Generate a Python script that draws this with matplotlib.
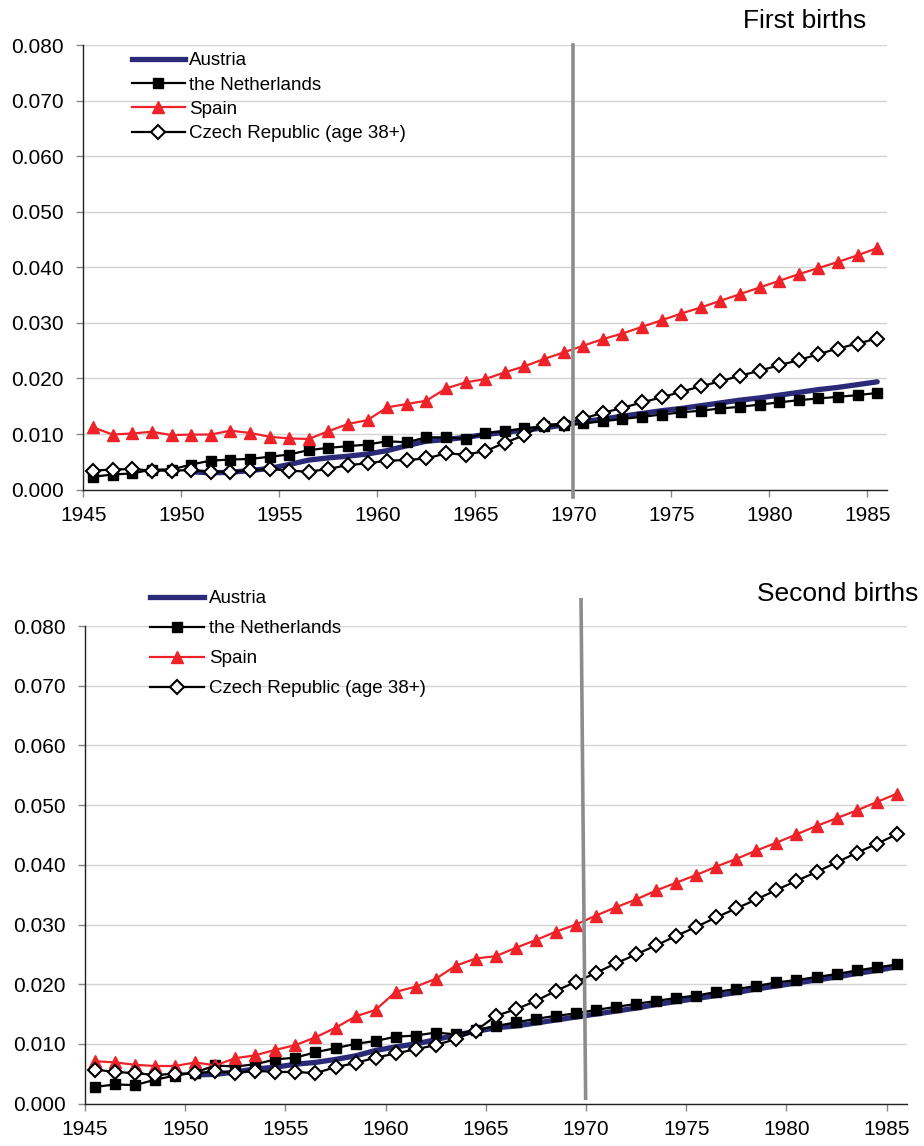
import numpy as np
import matplotlib
matplotlib.use('Agg')
import matplotlib.pyplot as plt
from matplotlib.lines import Line2D

plt.rcParams['font.family'] = ['Liberation Sans', 'DejaVu Sans']

years = np.arange(1945, 1986)
tick_years = [1945, 1950, 1955, 1960, 1965, 1970, 1975, 1980, 1985]
countries = ['Austria', 'the Netherlands', 'Spain', 'Czech Republic (age 38+)']
nan = np.nan

# first births
austria_1 = [nan, nan, nan, nan, nan,
             0.0032, 0.0030, 0.0031, 0.0034, 0.0038,
             0.0045, 0.0053, 0.0057, 0.0060, 0.0064, 0.0070, 0.0079, 0.0087, 0.0090, 0.0094,
             0.0099, 0.0103, 0.0107, 0.0111, 0.0116, 0.0122, 0.0127, 0.0132, 0.0137, 0.0142,
             0.0146, 0.0151, 0.0156, 0.0161, 0.0165, 0.0170, 0.0175, 0.0180, 0.0184, 0.0189, 0.0194]
netherlands_1 = [0.0023, 0.0027, 0.0029, 0.0036, 0.0036, 0.0045, 0.0052, 0.0054, 0.0055, 0.0059,
                 0.0063, 0.0071, 0.0075, 0.0078, 0.0081, 0.0087, 0.0085, 0.0094, 0.0094, 0.0091,
                 0.0102, 0.0105, 0.0110, 0.0114, 0.0116, 0.0119, 0.0123, 0.0127, 0.0131, 0.0135,
                 0.0139, 0.0142, 0.0146, 0.0149, 0.0153, 0.0157, 0.0161, 0.0164, 0.0167, 0.0170, 0.0174]
spain_1 = [0.0112, 0.0099, 0.0101, 0.0104, 0.0098, 0.0099, 0.0099, 0.0106, 0.0102, 0.0095,
           0.0092, 0.0091, 0.0105, 0.0118, 0.0125, 0.0148, 0.0154, 0.0160, 0.0182, 0.0193,
           0.0199, 0.0211, 0.0222, 0.0235, 0.0247, 0.0259, 0.0271, 0.0281, 0.0293, 0.0305,
           0.0317, 0.0328, 0.0340, 0.0352, 0.0364, 0.0376, 0.0388, 0.0399, 0.0410, 0.0422, 0.0435]
czech_1 = [0.0034, 0.0036, 0.0037, 0.0034, 0.0034, 0.0035, 0.0032, 0.0032, 0.0035, 0.0037,
           0.0034, 0.0032, 0.0037, 0.0044, 0.0047, 0.0052, 0.0053, 0.0056, 0.0065, 0.0063,
           0.0069, 0.0084, 0.0098, 0.0117, 0.0118, 0.0128, 0.0138, 0.0147, 0.0157, 0.0166,
           0.0176, 0.0186, 0.0195, 0.0205, 0.0214, 0.0224, 0.0233, 0.0244, 0.0254, 0.0263, 0.0272]

# second births
austria_2 = [nan, nan, nan, nan, nan,
             0.0048, 0.0049, 0.0053, 0.0058, 0.0061,
             0.0066, 0.0069, 0.0074, 0.0080, 0.0089, 0.0095, 0.0100, 0.0107, 0.0115, 0.0121,
             0.0127, 0.0130, 0.0135, 0.0140, 0.0145, 0.0150, 0.0155, 0.0160, 0.0166, 0.0171,
             0.0176, 0.0181, 0.0186, 0.0192, 0.0197, 0.0202, 0.0207, 0.0212, 0.0218, 0.0223, 0.0229]
netherlands_2 = [0.0028, 0.0032, 0.0031, 0.0040, 0.0047, 0.0052, 0.0064, 0.0062, 0.0066, 0.0074,
                 0.0077, 0.0086, 0.0093, 0.0100, 0.0105, 0.0112, 0.0114, 0.0119, 0.0116, 0.0123,
                 0.0130, 0.0136, 0.0142, 0.0147, 0.0151, 0.0157, 0.0162, 0.0167, 0.0172, 0.0177,
                 0.0181, 0.0187, 0.0192, 0.0197, 0.0203, 0.0207, 0.0212, 0.0217, 0.0223, 0.0228, 0.0233]
spain_2 = [0.0071, 0.0069, 0.0065, 0.0063, 0.0063, 0.0069, 0.0064, 0.0076, 0.0081, 0.0090,
           0.0098, 0.0111, 0.0127, 0.0146, 0.0157, 0.0187, 0.0196, 0.0209, 0.0231, 0.0243,
           0.0247, 0.0261, 0.0274, 0.0288, 0.0300, 0.0315, 0.0329, 0.0342, 0.0357, 0.0370,
           0.0383, 0.0397, 0.0410, 0.0424, 0.0437, 0.0451, 0.0465, 0.0478, 0.0491, 0.0505, 0.0519]
czech_2 = [0.0057, 0.0053, 0.0051, 0.0048, 0.0050, 0.0051, 0.0054, 0.0052, 0.0055, 0.0053,
           0.0053, 0.0051, 0.0061, 0.0068, 0.0077, 0.0084, 0.0091, 0.0098, 0.0108, 0.0122,
           0.0147, 0.0158, 0.0172, 0.0189, 0.0204, 0.0219, 0.0235, 0.0250, 0.0265, 0.0281,
           0.0296, 0.0312, 0.0327, 0.0342, 0.0358, 0.0373, 0.0388, 0.0404, 0.0420, 0.0435, 0.0451]

NAVY = '#2a2a78'
RED = '#ee2329'
GRID = '#d4d4d4'
MARK = '#888888'

W, H = 924, 1146
fig = plt.figure(figsize=(W / 100, H / 100), dpi=100)

def px(x0, y0, x1, y1):
    # axes rectangle from pixel corners (top-left origin)
    return [x0 / W, 1 - y1 / H, (x1 - x0) / W, (y1 - y0) / H]

ax1 = fig.add_axes(px(83.3, 45.5, 887, 489.5))
ax2 = fig.add_axes(px(85, 626, 906.7, 1103.6))

def draw_panel(ax, at, nl, es, cz):
    ax.plot(years, at, color=NAVY, lw=3.8, solid_capstyle='round', zorder=3)
    ax.plot(years, nl, color='black', lw=1.6, marker='s', ms=7.5, mfc='black', mec='black', zorder=4)
    ax.plot(years, es, color=RED, lw=1.6, marker='^', ms=8, mfc=RED, mec=RED, zorder=5)
    ax.plot(years, cz, color='black', lw=1.6, marker='D', ms=7, mfc='white', mec='black', mew=1.5, zorder=6)

    ax.set_xlim(1944.5, 1985.5)
    ax.set_ylim(0, 0.08)
    # category axis: ticks sit on the boundary before each labelled year
    ax.set_xticks([y - 0.5 for y in tick_years])
    ax.set_xticklabels([str(y) for y in tick_years])
    ax.set_yticks(np.arange(0, 0.0801, 0.01))
    ax.set_yticklabels(['%.3f' % v for v in np.arange(0, 0.0801, 0.01)])
    ax.grid(axis='y', color=GRID, lw=1.0, zorder=0)
    ax.set_axisbelow(True)
    for s in ['top', 'right']:
        ax.spines[s].set_visible(False)
    for s in ['left', 'bottom']:
        ax.spines[s].set_color('#222222')
        ax.spines[s].set_linewidth(1.0)
    ax.tick_params(axis='both', labelsize=15, color=MARK, length=5, width=1)
    ax.tick_params(axis='y', pad=9)
    ax.tick_params(axis='x', pad=7)

draw_panel(ax1, austria_1, netherlands_1, spain_1, czech_1)
draw_panel(ax2, austria_2, netherlands_2, spain_2, czech_2)

# 1970 cohort marker
ax1.plot([1969.5, 1969.5], [0.080, -0.0014], color='#8c8c8c', lw=2.6, clip_on=False, zorder=7)
ax2.plot([1969.25, 1969.48], [0.0844, 0.0009], color='#8c8c8c', lw=2.6, clip_on=False, zorder=7)

handles = [
    Line2D([], [], color=NAVY, lw=3.8),
    Line2D([], [], color='black', lw=1.6, marker='s', ms=7.5),
    Line2D([], [], color=RED, lw=1.6, marker='^', ms=8),
    Line2D([], [], color='black', lw=1.6, marker='D', ms=7, mfc='white', mew=1.5),
]

ax1.legend(handles, countries, loc='upper left', bbox_to_anchor=(132 / W, 1 - 52 / H),
           bbox_transform=fig.transFigure, frameon=False, fontsize=13.5, borderpad=0,
           borderaxespad=0, handlelength=2.8, handletextpad=0.25, labelspacing=0.39, numpoints=1)
ax2.legend(handles, countries, loc='upper left', bbox_to_anchor=(150 / W, 1 - 590 / H),
           bbox_transform=fig.transFigure, frameon=False, fontsize=13.5, borderpad=0,
           borderaxespad=0, handlelength=2.9, handletextpad=0.25, labelspacing=0.69, numpoints=1)

fig.text(866 / W, 1 - 21 / H, 'First births', ha='right', va='center', fontsize=19)
fig.text(918 / W, 1 - 594 / H, 'Second births', ha='right', va='center', fontsize=19)

fig.savefig('out.png', dpi=100)
